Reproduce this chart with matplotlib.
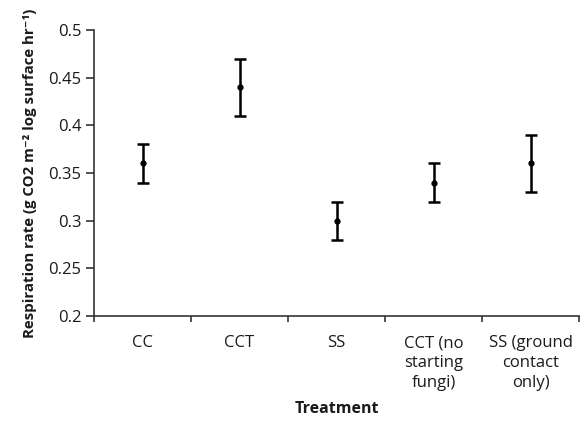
import matplotlib
matplotlib.use("Agg")
import matplotlib.pyplot as plt
import numpy as np

categories = ["CC", "CCT", "SS", "CCT (no\nstarting\nfungi)", "SS (ground\ncontact\nonly)"]
means = [0.36, 0.44, 0.30, 0.34, 0.36]
lower = [0.34, 0.41, 0.28, 0.32, 0.33]
upper = [0.38, 0.47, 0.32, 0.36, 0.39]
yticks = [0.2, 0.25, 0.3, 0.35, 0.4, 0.45, 0.5]
ytick_labels = ["0.2", "0.25", "0.3", "0.35", "0.4", "0.45", "0.5"]

plt.rcParams['font.family'] = ['Open Sans', 'DejaVu Sans']
TXT = '#1a1a1a'

W, H = 582, 424
fig = plt.figure(figsize=(W / 100, H / 100), dpi=100)
ax = fig.add_axes([94 / W, 1 - 316 / H, (579 - 94) / W, (316 - 30) / H])

x = np.arange(len(categories))
m = np.array(means)
yerr = np.vstack([m - np.array(lower), np.array(upper) - m])
ax.errorbar(x, m, yerr=yerr, fmt='o', color='black', markersize=3.5,
            elinewidth=1.8, capsize=4.5, capthick=1.8)

ax.set_ylim(0.2, 0.5)
ax.set_xlim(-0.5, 4.5)
ax.set_yticks(yticks)
ax.set_yticklabels(ytick_labels, fontsize=12, color=TXT)
ax.set_xticks(x)
ax.set_xticklabels(categories, fontsize=12, linespacing=1.3, va='top', color=TXT)
ax.tick_params(axis='x', length=0, pad=14)
ax.set_xticks(np.arange(len(categories) + 1) - 0.5, minor=True)
ax.tick_params(axis='x', which='minor', length=4, width=1.2, direction='out', color='#333333')
ax.tick_params(axis='y', length=6, width=1.2, direction='out', pad=3, color='#333333')
for s in ['top', 'right']:
    ax.spines[s].set_visible(False)
for s in ['left', 'bottom']:
    ax.spines[s].set_linewidth(1.2)
    ax.spines[s].set_color('#333333')

ax.set_xlabel("Treatment", fontsize=11.5, fontweight='bold', color=TXT)
ax.set_ylabel("Respiration rate (g CO2 m\u207b\u00b2 log surface hr\u207b\u00b9)",
              fontsize=10.8, fontweight='bold', color=TXT)
ax.xaxis.set_label_coords((337 - 94) / (579 - 94), -(413 - 316) / (316 - 30))
ax.xaxis.label.set_va('baseline')
ax.yaxis.set_label_coords(-(94 - 37) / (579 - 94), 0.5)

fig.savefig("out.png", dpi=100)
